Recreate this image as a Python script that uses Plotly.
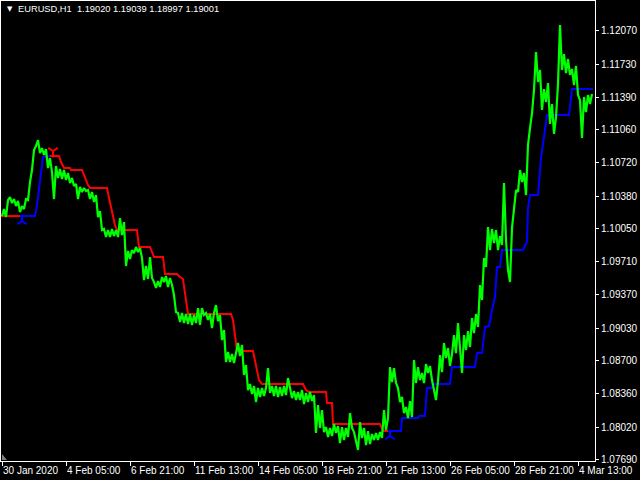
import plotly.graph_objects as go

# ---- data (bar index along the H1 time axis, price) ----
close_bar = list(range(2, 593, 2))
close = [
    1.10176, 1.10248, 1.10166, 1.10340, 1.10371, 1.10309, 1.10350, 1.10279, 1.10330, 1.10217,
    1.10279, 1.10248, 1.10350, 1.10340, 1.10524, 1.10647, 1.10851, 1.10892, 1.10953, 1.10820,
    1.10871, 1.10800, 1.10861, 1.10667, 1.10769, 1.10626, 1.10350, 1.10688, 1.10565, 1.10657,
    1.10555, 1.10647, 1.10544, 1.10616, 1.10514, 1.10565, 1.10483, 1.10504, 1.10350, 1.10473,
    1.10422, 1.10463, 1.10432, 1.10442, 1.10350, 1.10422, 1.10320, 1.10391, 1.10166, 1.10228,
    1.10033, 1.10044, 1.09962, 1.10033, 1.09962, 1.10044, 1.09972, 1.10033, 1.09962, 1.10156,
    1.09982, 1.10115, 1.09666, 1.09819, 1.09737, 1.09829, 1.09798, 1.09860, 1.09809, 1.09849,
    1.09747, 1.09522, 1.09666, 1.09533, 1.09758, 1.09543, 1.09502, 1.09441, 1.09512, 1.09451,
    1.09553, 1.09502, 1.09563, 1.09451, 1.09543, 1.09471, 1.09369, 1.09195, 1.09185, 1.09093,
    1.09185, 1.09083, 1.09175, 1.09073, 1.09175, 1.09063, 1.09165, 1.09083, 1.09236, 1.09063,
    1.09236, 1.09165, 1.09185, 1.09114, 1.09175, 1.09032, 1.09185, 1.09267, 1.09103, 1.09165,
    1.08909, 1.09011, 1.08684, 1.08787, 1.08684, 1.08766, 1.08674, 1.08766, 1.08879, 1.08746,
    1.08858, 1.08552, 1.08654, 1.08398, 1.08460, 1.08357, 1.08439, 1.08276, 1.08419, 1.08327,
    1.08419, 1.08337, 1.08419, 1.08623, 1.08368, 1.08439, 1.08337, 1.08439, 1.08327, 1.08429,
    1.08337, 1.08439, 1.08347, 1.08521, 1.08398, 1.08316, 1.08388, 1.08296, 1.08378, 1.08296,
    1.08398, 1.08255, 1.08368, 1.08276, 1.08378, 1.08286, 1.08347, 1.07959, 1.08245, 1.08010,
    1.08194, 1.07969, 1.08020, 1.07918, 1.08010, 1.07928, 1.08051, 1.07959, 1.08030, 1.07857,
    1.08020, 1.07887, 1.08010, 1.07918, 1.08163, 1.08010, 1.07969, 1.07867, 1.07785, 1.08071,
    1.07908, 1.08010, 1.07836, 1.07979, 1.07846, 1.07949, 1.07887, 1.07959, 1.07887, 1.07969,
    1.07908, 1.08194, 1.07989, 1.08112, 1.08633, 1.08480, 1.08623, 1.08470, 1.08419, 1.08276,
    1.08327, 1.08163, 1.08225, 1.08112, 1.08286, 1.08122, 1.08705, 1.08470, 1.08633, 1.08500,
    1.08572, 1.08470, 1.08664, 1.08572, 1.08644, 1.08500, 1.08398, 1.08296, 1.08490, 1.08756,
    1.08582, 1.08879, 1.08725, 1.08827, 1.08644, 1.08766, 1.08960, 1.08776, 1.09083, 1.08858,
    1.08572, 1.08960, 1.08807, 1.09001, 1.08838, 1.09134, 1.08981, 1.09175, 1.09042, 1.09471,
    1.09318, 1.09747, 1.09655, 1.10064, 1.09829, 1.10044, 1.09901, 1.10033, 1.09829, 1.09972,
    1.09880, 1.10514, 1.09931, 1.09625, 1.09502, 1.10054, 1.10289, 1.10442, 1.10422, 1.10647,
    1.10524, 1.10616, 1.10391, 1.10902, 1.11076, 1.11229, 1.11464, 1.11853, 1.11546, 1.11669,
    1.11260, 1.11474, 1.11342, 1.11536, 1.11117, 1.11321, 1.11015, 1.11188, 1.11526, 1.12128,
    1.11669, 1.11832, 1.11638, 1.11781, 1.11618, 1.11679, 1.11515, 1.11710, 1.11413, 1.11362,
    1.10974, 1.11393, 1.11239, 1.11413, 1.11321, 1.11423,
]

# trailing-stop line above price (downtrend), None separates segments
red_bar = [1, 20, None,
           50, 59, 61, 63, 64, 70, 71, 82, 84, 86, 88, 90, 107, 109, 111, 113, 115, 117, 137, 139, 150, 152, 154, 163, 165, 177, 180, 183, 185, 188,
           231, 233, 235, 237, 253, 256, 259, 262, 303, 306, 309, 326, 327, 332, 333, 380, 383, 388]
red_val = [1.10176, 1.10176, None,
           1.10790, 1.10790, 1.10728, 1.10677, 1.10667, 1.10667, 1.10647, 1.10647, 1.10596, 1.10544, 1.10493, 1.10463, 1.10463, 1.10360, 1.10268, 1.10166, 1.10084, 1.10033, 1.10033, 1.09860, 1.09860, 1.09809, 1.09758, 1.09758, 1.09584, 1.09584, 1.09553, 1.09533, 1.09369, 1.09175,
           1.09175, 1.09114, 1.08960, 1.08797, 1.08797, 1.08633, 1.08500, 1.08460, 1.08460, 1.08398, 1.08378, 1.08378, 1.08265, 1.08265, 1.08051, 1.08051, 1.07979, 1.07979]

# trailing-stop line below price (uptrend)
blue_bar = [20, 35, 37, 39, 41, 43, 50, None,
            388, 401, 402, 418, 419, 425, 427, 432, 433, 450, 452, 475, 477, 482, 485, 489, 492, 495, 497, 500, 502, 523, 527, 528, 530, 538, 541, 543, 547, 569, 572, 593]
blue_val = [1.10176, 1.10176, 1.10289, 1.10463, 1.10626, 1.10780, 1.10790, None,
            1.07979, 1.07979, 1.08112, 1.08112, 1.08132, 1.08132, 1.08419, 1.08419, 1.08460, 1.08460, 1.08633, 1.08633, 1.08776, 1.08776, 1.09042, 1.09052, 1.09216, 1.09349, 1.09655, 1.09655, 1.09829, 1.09829, 1.09911, 1.10258, 1.10391, 1.10391, 1.10769, 1.10933, 1.11209, 1.11209, 1.11474, 1.11474]

# trend-change signals
sell_bar = [53]
sell_val = [1.10841]
buy_bar = [22, 390]
buy_val = [1.10125, 1.07928]

price_ticks = [1.12070, 1.11730, 1.11390, 1.11060, 1.10720, 1.10380, 1.10050,
               1.09710, 1.09370, 1.09030, 1.08700, 1.08360, 1.08020, 1.07690]
time_tick_bar = [2, 66, 130, 194, 258, 322, 386, 450, 514, 578]
time_tick_text = ["30 Jan 2020", "4 Feb 05:00", "6 Feb 21:00", "11 Feb 13:00", "14 Feb 05:00",
                  "18 Feb 21:00", "21 Feb 13:00", "26 Feb 05:00", "28 Feb 21:00", "4 Mar 13:00"]
header = "EURUSD,H1  1.19020 1.19039 1.18997 1.19001"

FONT = "Liberation Sans, Arial, sans-serif"

fig = go.Figure()
fig.add_trace(go.Scatter(x=red_bar, y=red_val, mode="lines", line=dict(color="#ff0000", width=2),
                         connectgaps=False, hoverinfo="skip"))
fig.add_trace(go.Scatter(x=blue_bar, y=blue_val, mode="lines", line=dict(color="#0000ff", width=2),
                         connectgaps=False, hoverinfo="skip"))
fig.add_trace(go.Scatter(x=close_bar, y=close, mode="lines", line=dict(color="#00ff00", width=2.2)))
fig.add_trace(go.Scatter(x=sell_bar, y=sell_val, mode="markers",
                         marker=dict(symbol="y-down", size=8, line=dict(color="#ff0000", width=2))))
fig.add_trace(go.Scatter(x=buy_bar, y=buy_val, mode="markers",
                         marker=dict(symbol="y-up", size=8, line=dict(color="#0000ff", width=2))))

fig.update_layout(
    width=640, height=480,
    margin=dict(l=1, r=45, t=1, b=19, pad=0, autoexpand=False),
    paper_bgcolor="#000000", plot_bgcolor="#000000",
    showlegend=False,
    font=dict(family=FONT, size=10, color="#ffffff"),
    xaxis=dict(range=[1, 595], showgrid=False, zeroline=False, automargin=False,
               showline=True, linecolor="#ffffff", linewidth=1, mirror=True,
               ticks="outside", ticklen=4, tickcolor="#ffffff", tickwidth=1,
               tickvals=time_tick_bar, ticktext=time_tick_text, tickangle=0,
               ticklabelposition="outside right",
               tickfont=dict(family=FONT, size=10, color="#ffffff")),
    yaxis=dict(range=[1.07673, 1.12374], side="right", showgrid=False, zeroline=False, automargin=False,
               showline=True, linecolor="#ffffff", linewidth=1, mirror=True,
               ticks="outside", ticklen=3, tickcolor="#ffffff", tickwidth=1,
               tickvals=price_ticks, ticktext=[f"{v:.5f}" for v in price_ticks],
               tickfont=dict(family=FONT, size=10, color="#ffffff")),
)

fig.add_annotation(xref="paper", yref="paper", x=(5 - 1) / 594, y=1 - (9 - 1) / 460,
                   xanchor="left", yanchor="middle", text="▼", showarrow=False,
                   font=dict(family="DejaVu Sans", size=7, color="#ffffff"))
fig.add_annotation(xref="paper", yref="paper", x=(16 - 1) / 594, y=1 - (9 - 1) / 460,
                   xanchor="left", yanchor="middle", text=header, showarrow=False,
                   font=dict(family=FONT, size=9.3, color="#ffffff"))
fig.add_shape(type="path", xref="paper", yref="paper",
              path="M 0.0017,0.0152 L 0.0017,0.0022 L 0.0101,0.0022 Z",
              fillcolor="#808080", line=dict(width=0))

fig.write_html("out.html", config={"displayModeBar": False},
               post_script="document.body.style.margin='0';document.body.style.background='#000';")
